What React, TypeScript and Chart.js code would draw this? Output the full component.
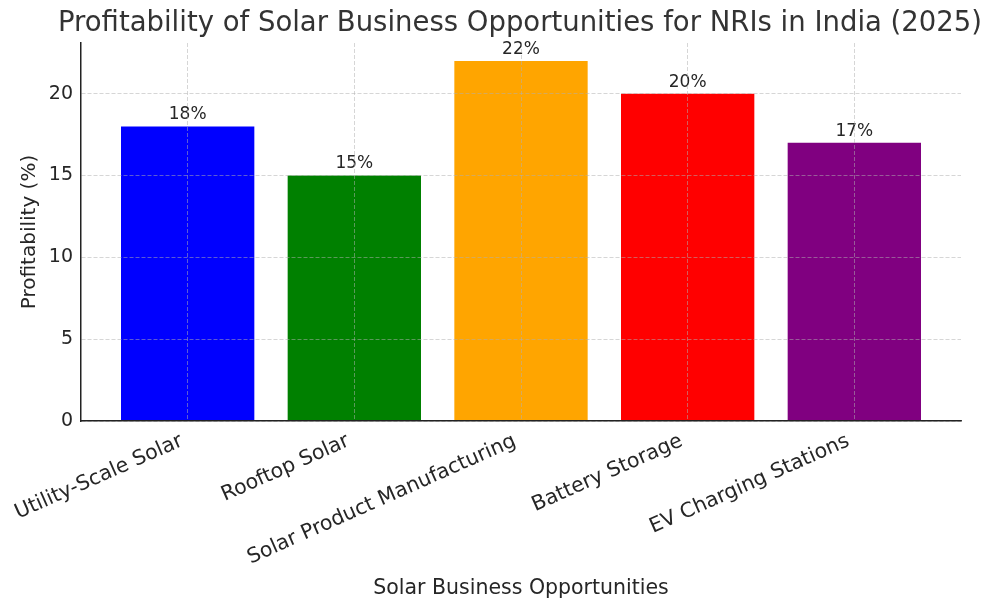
import React, { useEffect, useRef } from "react";
import { Chart, registerables } from "chart.js";

Chart.register(...registerables);

const categories = [
  "Utility-Scale Solar",
  "Rooftop Solar",
  "Solar Product Manufacturing",
  "Battery Storage",
  "EV Charging Stations",
];
const profitability = [18, 15, 22, 20, 17];
const barColors = ["#0000ff", "#008000", "#ffa500", "#ff0000", "#800080"];
const yTicks = [0, 5, 10, 15, 20];
const chartTitle = "Profitability of Solar Business Opportunities for NRIs in India (2025)";

const FONT = "'DejaVu Sans', sans-serif";
const TEXT = "#262626";
const GRID = "rgba(176,176,176,0.65)";

const valueLabels = {
  id: "valueLabels",
  afterDatasetsDraw(chart: any) {
    const ctx = chart.ctx;
    const meta = chart.getDatasetMeta(0);
    ctx.save();
    ctx.font = `17px ${FONT}`;
    ctx.fillStyle = TEXT;
    ctx.textAlign = "center";
    ctx.textBaseline = "bottom";
    meta.data.forEach((el: any, i: number) => {
      ctx.fillText(`${profitability[i]}%`, el.x, el.y - 3);
    });
    ctx.restore();
  },
};

const axesTitle = {
  id: "axesTitle",
  afterDraw(chart: any) {
    const ctx = chart.ctx;
    const { left, right } = chart.chartArea;
    ctx.save();
    ctx.font = `27.5px ${FONT}`;
    ctx.fillStyle = "#333333";
    ctx.textAlign = "center";
    ctx.textBaseline = "middle";
    ctx.fillText(chartTitle, (left + right) / 2 - 1, 23.5);
    ctx.restore();
  },
};

export default function App() {
  const ref = useRef<HTMLCanvasElement>(null);
  useEffect(() => {
    if (!ref.current) return;
    const chart = new Chart(ref.current, {
      type: "bar",
      data: {
        datasets: [
          {
            data: profitability.map((v, i) => ({ x: i, y: v })),
            backgroundColor: barColors,
            borderWidth: 0,
            barPercentage: 0.8,
            categoryPercentage: 1,
          },
        ],
      },
      options: {
        animation: false,
        responsive: false,
        maintainAspectRatio: false,
        layout: { padding: { left: 0, right: 39, top: 43, bottom: 0 } },
        plugins: {
          legend: { display: false },
          tooltip: { enabled: false },
          title: { display: false },
        },
        scales: {
          x: {
            type: "linear",
            min: -0.64,
            max: 4.64,
            offset: false,
            afterBuildTicks(scale: any) {
              scale.ticks = categories.map((_, i) => ({ value: i }));
            },
            afterFit(scale: any) {
              scale.height = 190;
            },
            ticks: {
              autoSkip: false,
              minRotation: 24,
              maxRotation: 24,
              padding: 8,
              labelOffset: -6,
              color: TEXT,
              font: { family: FONT, size: 20.5 },
              callback: (v: any) => categories[v] ?? "",
            },
            grid: {
              offset: false,
              z: 1,
              color: GRID,
              lineWidth: 0.8,
              drawTicks: false,
            },
            border: { display: true, color: "#222", width: 1.5, dash: [4, 2], z: 2 },
            title: {
              display: true,
              text: "Solar Business Opportunities",
              color: TEXT,
              font: { family: FONT, size: 20.5, lineHeight: 1.2 },
              padding: { top: 0, bottom: 10 },
            },
          },
          y: {
            type: "linear",
            min: 0,
            max: 23.1,
            afterBuildTicks(scale: any) {
              scale.ticks = yTicks.map((v) => ({ value: v }));
            },
            afterFit(scale: any) {
              scale.width = 81;
            },
            ticks: {
              color: TEXT,
              font: { family: FONT, size: 19 },
              padding: 8,
            },
            grid: {
              z: 1,
              color: GRID,
              lineWidth: 0.8,
              drawTicks: false,
            },
            border: { display: true, color: "#222", width: 1.5, dash: [4, 2], z: 2 },
            title: {
              display: true,
              text: "Profitability (%)",
              color: TEXT,
              font: { family: FONT, size: 20, lineHeight: 1.2 },
              padding: { top: 18, bottom: 0 },
            },
          },
        },
      } as any,
      plugins: [valueLabels, axesTitle],
    });
    return () => chart.destroy();
  }, []);
  return (
    <div style={{ position: "fixed", left: 0, top: 0, width: 1000, height: 611, background: "#fff" }}>
      <canvas ref={ref} width={1000} height={611} style={{ width: 1000, height: 611, display: "block" }} />
    </div>
  );
}
